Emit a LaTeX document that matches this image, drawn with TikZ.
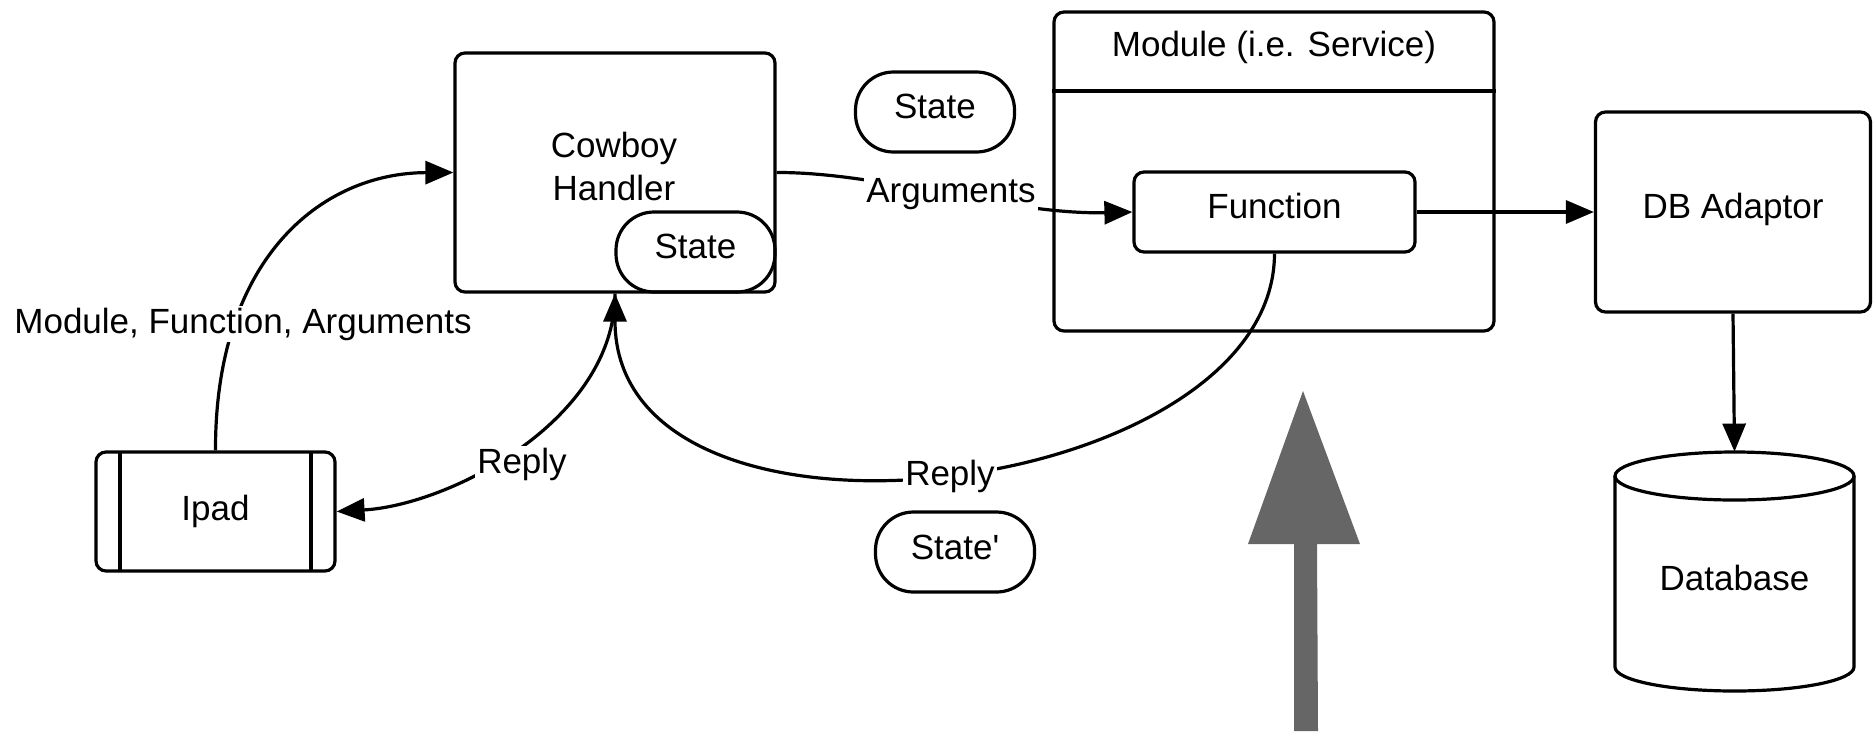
\documentclass[tikz,border=0pt]{standalone}
\usepackage{fontspec}
\setmainfont{Liberation Sans}
\usetikzlibrary{arrows.meta}
\definecolor{arrowgray}{HTML}{666666}
\newcommand\liftt[2]{\raisebox{#1}[\height][\depth]{#2}}
\begin{document}
\begin{tikzpicture}[x=0.5pt,y=-0.5pt,
  every node/.style={font=\fontsize{17.5}{21.5}\selectfont},
  box/.style={draw, line width=1.6pt, rounded corners=5pt, inner sep=0pt},
  stadium/.style={draw, line width=1.6pt, rounded corners=19pt, minimum width=79.5pt, minimum height=40pt, inner sep=0pt},
  conn/.style={line width=1.6pt, -{Triangle[length=14pt,width=11.5pt]}},
  lbl/.style={fill=white, inner sep=1pt},
]
\useasboundingbox (0,0) rectangle (1874,735);

% nodes
\node[box, minimum width=160pt, minimum height=119.5pt] (cowboy) at (615,172.5) {};
\node[align=center, inner sep=0pt] (cowboytxt) at (614,166) {Cowboy\\Handler};
\node[stadium] (stateIn) at (695.5,252) {\liftt{3pt}{State}};
\node[stadium] (stateTop) at (935,112) {\liftt{3pt}{State}};
\node[stadium] (stateP) at (955,552) {\liftt{2.5pt}{State\textquotesingle}};

\node[box, minimum width=220pt, minimum height=159.5pt] (module) at (1274,171.5) {};
\draw[line width=1.6pt] (module.west |- 0,91) -- (module.east |- 0,91);
\node (moduletxt) at (1274,47) {Module (i.e. Service)};
\node[box, minimum width=140.5pt, minimum height=40pt] (func) at (1274.5,212) {\liftt{3pt}{Function}};

\node[box, minimum width=137.5pt, minimum height=100pt] (dba) at (1733,212) {\liftt{1.2pt}{DB Adaptor}};

\node[minimum width=119.5pt, minimum height=119.5pt, inner sep=0pt] (db) at (1734.5,571.5) {};
\draw[line width=1.6pt] (1734.5,476) ellipse[x radius=59.75pt, y radius=12pt];
\draw[line width=1.6pt] (1615,476) -- (1615,667) arc[start angle=180, end angle=360, x radius=59.75pt, y radius=12pt] -- (1854,476);
\node (dbtxt) at (1734.5,578) {Database};

\node[box, minimum width=119.5pt, minimum height=59.5pt] (ipad) at (215.5,511.5) {Ipad};
\draw[line width=1.6pt] (120,452) -- (120,571);
\draw[line width=1.6pt] (311,452) -- (311,571);

% connectors
\draw[conn] (ipad.north) .. controls (215,260) and (320,173) .. (cowboy.west);
\draw[conn] (func.south) .. controls (1274,500) and (615,580) .. (cowboy.south);
\draw[conn] (cowboy.south) .. controls (615,420) and (450,505) .. (ipad.east);
\draw[conn] (cowboy.east) .. controls (880,172) and (1010,215) .. (func.west);
\draw[conn] (func.east) -- (dba.west);
\draw[conn] (dba.south) -- (db.north);

% labels
\node[lbl] (lArgs) at (951,194) {Arguments};
\node[lbl] (lMFA) at (243,324) {Module, Function, Arguments};
\node[lbl] (lReply1) at (522,464) {Reply};
\node[lbl] (lReply2) at (950,476) {Reply};

% big gray arrow
\fill[arrowgray] (1294,731) -- (1294,544) -- (1248,544) -- (1303,391) -- (1360,544) -- (1317,544) -- (1318,731) -- cycle;
\end{tikzpicture}
\end{document}
